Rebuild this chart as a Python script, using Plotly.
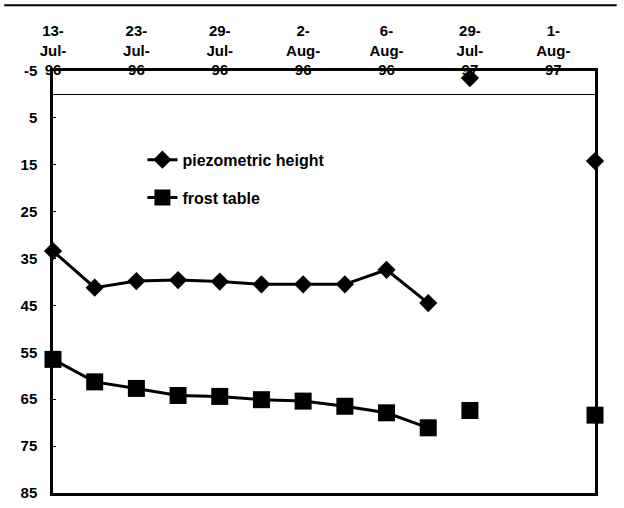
import plotly.graph_objects as go

# ---- data ----
date_labels = ["13-<br>Jul-<br>96", "23-<br>Jul-<br>96", "29-<br>Jul-<br>96", "2-<br>Aug-<br>96",
               "6-<br>Aug-<br>96", "29-<br>Jul-<br>97", "1-<br>Aug-<br>97"]
label_positions = [0, 2, 4, 6, 8, 10, 12]

x_1996 = [0, 1, 2, 3, 4, 5, 6, 7, 8, 9]
piezo_1996 = [33.4, 41.2, 39.8, 39.6, 39.9, 40.5, 40.5, 40.5, 37.4, 44.5]
frost_1996 = [56.5, 61.3, 62.7, 64.2, 64.4, 65.1, 65.4, 66.5, 67.9, 71.1]

x_1997 = [10, 13]
piezo_1997 = [-3.5, 14.2]
frost_1997 = [67.4, 68.4]

y_ticks = [-5, 5, 15, 25, 35, 45, 55, 65, 75, 85]
y_tick_labels = ["-5", "5", "15", "25", "35", "45", "55", "65", "75", "85"]

FONT = "Liberation Sans"
BOLD = dict(family=FONT, size=15, color="black", weight="bold")

fig = go.Figure()
fig.add_trace(go.Scatter(x=x_1996, y=piezo_1996, mode="lines+markers", name="piezometric height",
                         legendgroup="p", line=dict(color="black", width=3),
                         marker=dict(symbol="diamond", size=14, color="black"), cliponaxis=False))
fig.add_trace(go.Scatter(x=x_1996, y=frost_1996, mode="lines+markers", name="frost table",
                         legendgroup="f", line=dict(color="black", width=3),
                         marker=dict(symbol="square", size=17, color="black"), cliponaxis=False))
fig.add_trace(go.Scatter(x=x_1997, y=piezo_1997, mode="markers", showlegend=False,
                         marker=dict(symbol="diamond", size=14, color="black"), cliponaxis=False))
fig.add_trace(go.Scatter(x=x_1997, y=frost_1997, mode="markers", showlegend=False,
                         marker=dict(symbol="square", size=17, color="black"), cliponaxis=False))

fig.update_layout(
    width=624, height=508,
    margin=dict(l=53, r=29, t=71, b=15, autoexpand=False),
    paper_bgcolor="white", plot_bgcolor="white",
    font=BOLD,
    showlegend=True,
    legend=dict(x=0.165, y=0.83, xanchor="left", yanchor="top", bgcolor="rgba(0,0,0,0)",
                font=dict(family=FONT, size=16, color="black", weight="bold"),
                tracegroupgap=14, itemwidth=30),
    xaxis=dict(range=[0, 13], side="top", tickmode="array", tickvals=label_positions,
               ticktext=date_labels, showgrid=False, zeroline=False,
               showline=True, mirror=True, linecolor="black", linewidth=2.5,
               ticks="", tickfont=BOLD, ticklabelstandoff=-13),
    yaxis=dict(range=[85, -5], tickmode="array", tickvals=y_ticks, ticktext=y_tick_labels,
               showgrid=False, zeroline=True, zerolinecolor="black", zerolinewidth=1,
               showline=True, mirror=True, linecolor="black", linewidth=2.5,
               ticks="inside", ticklen=3, tickcolor="black", tickwidth=1,
               tickfont=BOLD, ticklabelstandoff=10),
    shapes=[dict(type="line", xref="paper", yref="paper", x0=-0.09, x1=1.04,
                 y0=1.156, y1=1.156, line=dict(color="black", width=2))],
)

fig.write_html("out.html", config={"displayModeBar": False},
               post_script="document.body.style.margin='0px';")
